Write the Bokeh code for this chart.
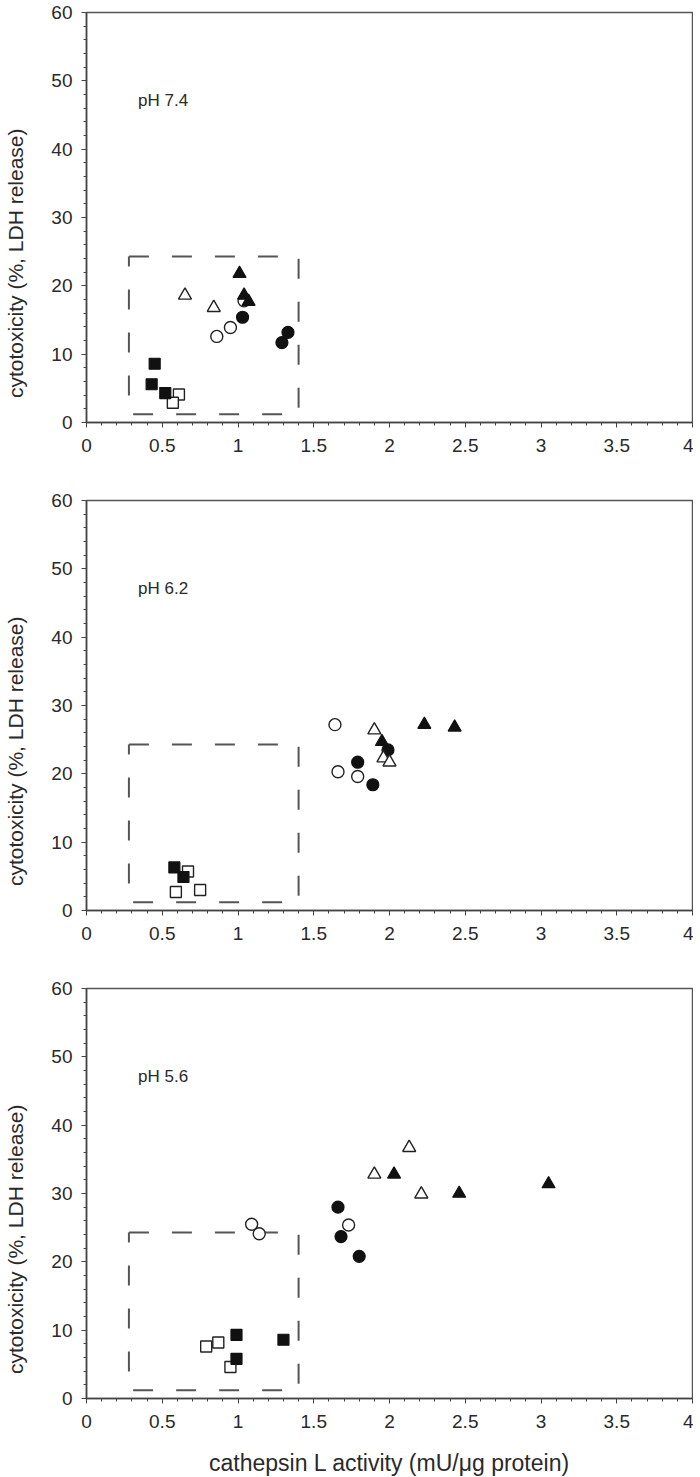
import math
from bokeh.plotting import figure
from bokeh.layouts import column, row
from bokeh.models import Range1d, FixedTicker, Label
from bokeh.core.properties import value
from bokeh.embed import file_html
from bokeh.resources import INLINE

# ---------------- data ----------------
panel_titles = ["pH 7.4", "pH 6.2", "pH 5.6"]
y_title = "cytotoxicity (%, LDH release)"
x_title = "cathepsin L activity (mU/μg protein)"
x_ticks = [0, 0.5, 1, 1.5, 2, 2.5, 3, 3.5, 4]
x_tick_labels = ["0", "0.5", "1", "1.5", "2", "2.5", "3", "3.5", "4"]
y_ticks = [0, 10, 20, 30, 40, 50, 60]
box_x = [0.28, 1.40]
box_y = [1.2, 24.3]

# pH 7.4
p74_fsq_x = [0.45, 0.43, 0.52]
p74_fsq_y = [8.6, 5.6, 4.3]
p74_osq_x = [0.61, 0.57]
p74_osq_y = [4.1, 2.9]
p74_fci_x = [1.03, 1.33, 1.29]
p74_fci_y = [15.4, 13.2, 11.7]
p74_oci_x = [0.86, 0.95, 1.04]
p74_oci_y = [12.6, 13.9, 17.8]
p74_otr_x = [0.65, 0.84]
p74_otr_y = [18.6, 16.8]
p74_ftr_x = [1.01, 1.04, 1.07]
p74_ftr_y = [21.8, 18.6, 17.7]

# pH 6.2
p62_fsq_x = [0.58, 0.64]
p62_fsq_y = [6.3, 4.9]
p62_osq_x = [0.59, 0.75, 0.67]
p62_osq_y = [2.7, 3.0, 5.7]
p62_fci_x = [1.79, 1.89, 1.99]
p62_fci_y = [21.7, 18.4, 23.5]
p62_oci_x = [1.64, 1.66, 1.79]
p62_oci_y = [27.2, 20.3, 19.6]
p62_otr_x = [1.90, 1.96, 2.00]
p62_otr_y = [26.4, 22.3, 21.7]
p62_ftr_x = [1.95, 2.23, 2.43]
p62_ftr_y = [24.7, 27.2, 26.8]

# pH 5.6
p56_fsq_x = [0.99, 0.99, 1.30]
p56_fsq_y = [9.3, 5.8, 8.6]
p56_osq_x = [0.79, 0.87, 0.95]
p56_osq_y = [7.6, 8.2, 4.6]
p56_fci_x = [1.66, 1.68, 1.80]
p56_fci_y = [28.0, 23.7, 20.8]
p56_oci_x = [1.09, 1.14, 1.73]
p56_oci_y = [25.5, 24.1, 25.4]
p56_otr_x = [2.13, 1.90, 2.21]
p56_otr_y = [36.7, 32.8, 29.9]
p56_ftr_x = [2.03, 2.46, 3.05]
p56_ftr_y = [32.8, 30.0, 31.4]

panels = [
    dict(fsq=(p74_fsq_x, p74_fsq_y), osq=(p74_osq_x, p74_osq_y), fci=(p74_fci_x, p74_fci_y),
         oci=(p74_oci_x, p74_oci_y), otr=(p74_otr_x, p74_otr_y), ftr=(p74_ftr_x, p74_ftr_y)),
    dict(fsq=(p62_fsq_x, p62_fsq_y), osq=(p62_osq_x, p62_osq_y), fci=(p62_fci_x, p62_fci_y),
         oci=(p62_oci_x, p62_oci_y), otr=(p62_otr_x, p62_otr_y), ftr=(p62_ftr_x, p62_ftr_y)),
    dict(fsq=(p56_fsq_x, p56_fsq_y), osq=(p56_osq_x, p56_osq_y), fci=(p56_fci_x, p56_fci_y),
         oci=(p56_oci_x, p56_oci_y), otr=(p56_otr_x, p56_otr_y), ftr=(p56_ftr_x, p56_ftr_y)),
]

FONT = "Liberation Sans"
AX = "#444444"
TXT = "#2a2a2a"
TITLE_W = 30

borders = [(12, 68), (10, 68), (10, 70)]
rows = []
for i, (title, d) in enumerate(zip(panel_titles, panels)):
    bt, bb = borders[i]
    p = figure(frame_width=606, frame_height=410, output_backend="svg", toolbar_location=None,
               x_range=Range1d(0, 4), y_range=Range1d(0, 60),
               min_border_left=86 - TITLE_W, min_border_right=1, min_border_top=bt, min_border_bottom=bb)
    p.xgrid.visible = False
    p.ygrid.visible = False
    p.outline_line_color = "#555555"
    p.outline_line_width = 1.5
    p.background_fill_color = "white"
    p.border_fill_color = "white"

    for ax in (p.xaxis[0], p.yaxis[0]):
        ax.axis_line_color = AX
        ax.axis_line_width = 1.5
        ax.major_tick_line_color = AX
        ax.minor_tick_line_color = AX
        ax.major_tick_out = 5
        ax.major_tick_in = 0
        ax.minor_tick_out = 3
        ax.minor_tick_in = 0
        ax.major_label_text_font = FONT
        ax.major_label_text_font_size = "19px"
        ax.major_label_text_color = TXT
        ax.axis_label_text_font = FONT
        ax.axis_label_text_font_style = "normal"
        ax.axis_label_text_color = TXT

    p.xaxis.major_label_standoff = 11
    p.yaxis.major_label_standoff = 9
    p.xaxis.ticker = FixedTicker(ticks=x_ticks, minor_ticks=[k / 10 for k in range(41)])
    p.xaxis.major_label_overrides = {t: l for t, l in zip(x_ticks, x_tick_labels)}
    p.yaxis.ticker = FixedTicker(ticks=y_ticks, minor_ticks=list(range(0, 61, 2)))
    if i == 2:
        p.xaxis.axis_label = x_title
        p.xaxis.axis_label_text_font_size = "23px"
        p.xaxis.axis_label_standoff = 19

    # dashed box
    p.line([box_x[0], box_x[1], box_x[1], box_x[0], box_x[0]],
           [box_y[1], box_y[1], box_y[0], box_y[0], box_y[1]],
           line_color="#555555", line_width=2, line_dash="20 23")

    # markers
    p.scatter(*d["osq"], marker="square", size=11, fill_color="white", line_color="#222222", line_width=1.4)
    p.scatter(*d["fsq"], marker="square", size=11, fill_color="#111111", line_color="#111111", line_width=1.2)
    p.scatter(*d["oci"], marker="circle", size=12, fill_color="white", line_color="#222222", line_width=1.4)
    p.scatter(*d["fci"], marker="circle", size=12, fill_color="#111111", line_color="#111111", line_width=1.2)
    p.scatter(*d["otr"], marker="triangle", size=13, fill_color="white", line_color="#222222", line_width=1.4)
    p.scatter(*d["ftr"], marker="triangle", size=13, fill_color="#111111", line_color="#111111", line_width=1.2)

    p.add_layout(Label(x=0.34, y=47.1, text=title, text_font=FONT, text_font_size="17px",
                       text_color=TXT, text_baseline="middle", text_align="left"))

    # strip holding the y-axis title (sits a little below the frame centre, as in the original)
    t = figure(frame_width=TITLE_W, frame_height=410, output_backend="svg", toolbar_location=None,
               x_range=Range1d(0, 1), y_range=Range1d(0, 60), x_axis_type=None, y_axis_type=None,
               min_border_left=0, min_border_right=0, min_border_top=bt, min_border_bottom=0)
    t.xgrid.visible = False
    t.ygrid.visible = False
    t.outline_line_color = None
    t.text(x=[0.5], y=[23.3], text=[y_title], angle=math.pi / 2,
           text_font=value(FONT), text_font_size="21px", text_color=TXT,
           text_align="center", text_baseline="middle")
    rows.append(row(t, p, spacing=0))

layout = column(*rows, spacing=0)
open("out.html", "w").write(file_html(layout, INLINE))
